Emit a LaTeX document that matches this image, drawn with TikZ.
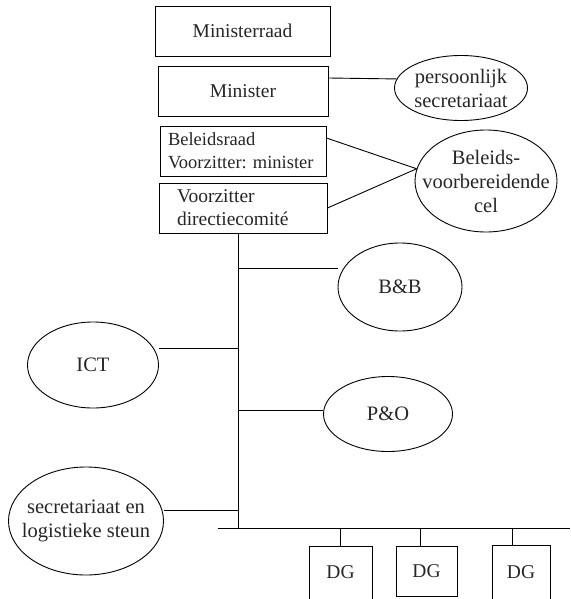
\documentclass[tikz,border=0pt]{standalone}
\usepackage{fontspec}
\setmainfont{Liberation Serif}
\usetikzlibrary{shapes.geometric}
\frenchspacing

\begin{document}
\begin{tikzpicture}[x=1pt,y=-1pt,line width=0.9pt,
    every node/.style={font=\fontsize{19.5}{23}\selectfont,text=black!85},
    every label/.style={font=\fontsize{20.5}{24}\selectfont},
    unit/.style={draw,rectangle,inner sep=0pt,minimum height=50pt},
    bubble/.style={draw,ellipse,inner sep=0pt}]
    \useasboundingbox (0,0) rectangle (570,599);

    %top
    \node[unit,minimum width=175pt] (mraad) at (242.5,31) {Ministerraad};
    \node[unit,minimum width=170pt] (minister) at (243,91) {Minister};
    \node[unit,minimum width=166pt,align=left,text width=150pt,inner xsep=8pt,
          font=\fontsize{18.5}{23}\selectfont] (braad) at (243,151)
          {Beleidsraad\\Voorzitter: minister};
    \node[unit,minimum width=168pt,align=left,text width=132pt,inner xsep=18pt] (dcom) at (243,208)
          {Voorzitter\\directiecomit\'e};

    %cells right
    \node[bubble,minimum width=133pt,minimum height=65pt,
          label={[align=center]center:{persoonlijk\\secretariaat}}] (persec) at (461,88) {};
    \node[bubble,minimum width=142pt,minimum height=102pt,
          label={[align=center]center:{Beleids-\\voorbereidende\\cel}}] (bvc) at (486,181) {};
    \draw ([yshift=13pt]minister.east) -- (persec.172);
    \draw ([yshift=13pt]braad.east) -- (bvc.170);
    \draw (dcom.east) -- (bvc.170);

    %staff
    \coordinate (top) at ([xshift=-5pt]dcom.south);
    \coordinate (bot) at (238,528);
    \draw (top) -- (bot);
    \node[bubble,minimum width=124pt,minimum height=88pt,label=center:{B\&B}] (bb) at (400,287) {};
    \node[bubble,minimum width=131pt,minimum height=86pt,label=center:{ICT}] (ict) at (93,365) {};
    \node[bubble,minimum width=129pt,minimum height=75pt,label=center:{P\&O}] (po) at (388,414) {};
    \node[bubble,minimum width=155pt,minimum height=108pt,
          label={[align=center]center:{secretariaat en\\logistieke steun}}] (sls) at (86,521) {};
    \coordinate (jbb) at (238,268);
    \coordinate (jict) at (238,348);
    \coordinate (jpo) at (238,410);
    \coordinate (jsls) at (238,510);
    \draw (jbb) -- (jbb -| bb.west);
    \draw (jict) -- (jict -| ict.east);
    \draw (jpo) -- (jpo -| po.west);
    \draw (jsls) -- (jsls -| sls.east);

    %DG
    \coordinate (barL) at (218,528);
    \coordinate (barR) at (570,528);
    \draw (barL) -- (barR);
    \node[unit,minimum width=63pt,minimum height=56pt] (dg1) at (340.5,574) {};
    \node[unit,minimum width=61pt,minimum height=50pt] (dg2) at (426.5,571) {};
    \node[unit,minimum width=58pt,minimum height=56pt] (dg3) at (521,573) {};
    \node (dg1t) at (340.5,572) {DG};
    \node (dg2t) at (426.5,571) {DG};
    \node (dg3t) at (521,572) {DG};
    \draw (dg1.north) -- (dg1.north |- barL);
    \draw ([xshift=-6pt]dg2.north) -- ([xshift=-6pt]dg2.north |- barL);
    \draw ([xshift=-9pt]dg3.north) -- ([xshift=-9pt]dg3.north |- barL);
\end{tikzpicture}
\end{document}
